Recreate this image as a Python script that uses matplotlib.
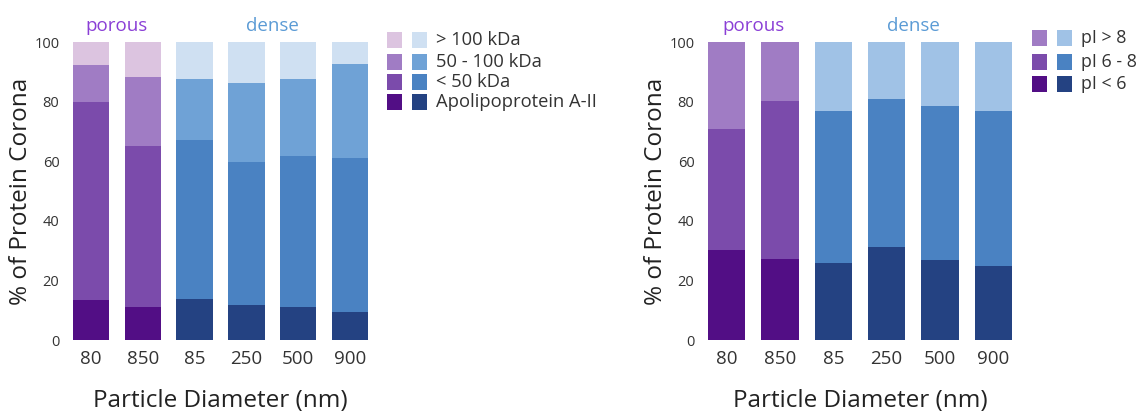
import matplotlib.pyplot as plt
from matplotlib.patches import Rectangle

plt.rcParams['font.family'] = ['Open Sans', 'DejaVu Sans']

diameters = ["80", "850", "85", "250", "500", "900"]
is_porous = [True, True, False, False, False, False]

# left panel: molecular weight composition (%)
apo_a2 = [13.5, 11.2, 13.8, 11.8, 11.2, 9.5]
mw_lt50 = [66.5, 53.8, 53.2, 47.9, 50.5, 51.5]
mw_50_100 = [12.4, 23.4, 20.5, 26.5, 25.8, 31.5]
mw_gt100 = [7.6, 11.6, 12.5, 13.8, 12.5, 7.5]
mw_labels = ["> 100 kDa", "50 - 100 kDa", "< 50 kDa", "Apolipoprotein A-II"]

# right panel: isoelectric point composition (%)
pi_lt6 = [30.3, 27.2, 25.8, 31.2, 27.0, 25.0]
pi_6_8 = [40.4, 53.0, 51.1, 49.8, 51.6, 51.9]
pi_gt8 = [29.3, 19.8, 23.1, 19.0, 21.4, 23.1]
pi_labels = ["pI > 8", "pI 6 - 8", "pI < 6"]

# colours bottom -> top
purple = ["#520e85", "#7b4bab", "#a07cc4", "#dcc4e0"]
blue = ["#244282", "#4a82c2", "#6fa2d6", "#cfe0f2"]
purple_pi = ["#520e85", "#7b4bab", "#a07cc4"]
blue_pi = ["#244282", "#4a82c2", "#a0c2e6"]

W, H = 1146, 418
fig = plt.figure(figsize=(W / 100, H / 100), dpi=100)


def stacked(ax, layers, pcols, bcols):
    x = range(len(diameters))
    bottom = [0] * len(diameters)
    for i, vals in enumerate(layers):
        cols = [pcols[i] if p else bcols[i] for p in is_porous]
        ax.bar(x, vals, bottom=bottom, width=0.7, color=cols, linewidth=0)
        bottom = [b + v for b, v in zip(bottom, vals)]
    ax.set_xlim(-0.5, 5.5)
    ax.set_ylim(0, 100)
    ax.set_xticks(list(x))
    ax.set_xticklabels(diameters, fontsize=13.5, color="#333333")
    ax.set_yticks([0, 20, 40, 60, 80, 100])
    ax.tick_params(axis="y", labelsize=10.5, length=0, pad=4, colors="#333333")
    ax.tick_params(axis="x", length=0, pad=7)
    for s in ax.spines.values():
        s.set_visible(False)
    ax.set_ylabel("% of Protein Corona", fontsize=17.5, color="#222222", labelpad=1)
    ax.set_xlabel("Particle Diameter (nm)", fontsize=17.5, color="#222222", labelpad=15)
    ax.text(0.5, 1.025, "porous", transform=ax.get_xaxis_transform(), ha="center",
            va="bottom", fontsize=13.5, color="#8a3fd6")
    ax.text(3.5, 1.025, "dense", transform=ax.get_xaxis_transform(), ha="center",
            va="bottom", fontsize=13.5, color="#5b9bd5")


def legend(x0, ys, labels, pcols, bcols, fs):
    # squares drawn in pixel positions of the figure
    sq = 15
    for y, lab, pc, bc in zip(ys, labels, pcols, bcols):
        for dx, c in ((0, pc), (25, bc)):
            fig.add_artist(Rectangle(((x0 + dx) / W, 1 - (y + sq / 2) / H), sq / W, sq / H,
                                     transform=fig.transFigure, color=c, linewidth=0))
        fig.text((x0 + 49) / W, 1 - y / H, lab, ha="left", va="center",
                 fontsize=fs, color="#333333")


ax1 = fig.add_axes([65 / W, 78 / H, 311 / W, 298 / H])
stacked(ax1, [apo_a2, mw_lt50, mw_50_100, mw_gt100], purple, blue)
legend(387, [40, 62, 82, 102], mw_labels, purple[::-1], blue[::-1], 13.2)

ax2 = fig.add_axes([700 / W, 78 / H, 320 / W, 298 / H])
stacked(ax2, [pi_lt6, pi_6_8, pi_gt8], purple_pi, blue_pi)
legend(1032, [38, 62, 84], pi_labels, purple_pi[::-1], blue_pi[::-1], 12.8)

fig.savefig("out.png", dpi=100)
